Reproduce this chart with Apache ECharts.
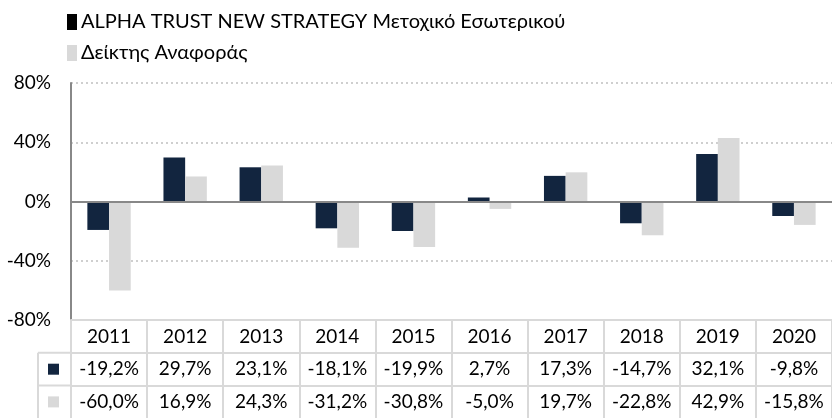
<!DOCTYPE html>
<html><head><meta charset="utf-8">
<script src="https://cdn.jsdelivr.net/npm/echarts@6/dist/echarts.min.js"></script>
<style>html,body{margin:0;padding:0;background:#fff}#c{width:832px;height:418px}</style>
</head><body><div id="c"></div>
<script>
const years = ['2011','2012','2013','2014','2015','2016','2017','2018','2019','2020'];
const fundName = 'ALPHA TRUST NEW STRATEGY Μετοχικό Εσωτερικού';
const benchName = 'Δείκτης Αναφοράς';
const fundValues = [-19.2, 29.7, 23.1, -18.1, -19.9, 2.7, 17.3, -14.7, 32.1, -9.8];
const benchValues = [-60.0, 16.9, 24.3, -31.2, -30.8, -5.0, 19.7, -22.8, 42.9, -15.8];
const yTicks = [-80, -40, 0, 40, 80];

const FONT = 'Lato, "Noto Sans", sans-serif';
const DARK = '#12253f', LIGHT = '#d9d9d9', TABLE = '#d9d9d9';
const fmt = v => v.toFixed(1).replace('.', ',') + '%';

const chart = echarts.init(document.getElementById('c'));
const gridLeft = 71, gridTop = 83, gridRight = -6, gridBottom = 98;
const rowH = 32.7;

function rowAxis(data, offset, line) {
  return {
    type: 'category', data: data, position: 'bottom', offset: offset,
    axisLine: { show: line, onZero: false, lineStyle: { color: TABLE, width: 2 } },
    axisTick: { show: false },
    axisLabel: { interval: 0, fontFamily: FONT, fontSize: 19, color: '#000', margin: 7 }
  };
}

chart.setOption({
  animation: false,
  textStyle: { fontFamily: FONT },
  legend: {
    orient: 'vertical', left: 62, top: 7, itemGap: 11,
    itemWidth: 10, itemHeight: 16, icon: 'rect',
    textStyle: { fontFamily: FONT, fontSize: 20, color: '#000', padding: [0,0,0,-1] },
    data: [
      { name: fundName, itemStyle: { color: '#000' } },
      { name: benchName, itemStyle: { color: LIGHT } }
    ]
  },
  grid: { left: gridLeft, top: gridTop, right: gridRight, bottom: gridBottom, containLabel: false },
  xAxis: [
    {
      type: 'category', data: years, position: 'bottom',
      axisLine: { show: true, onZero: false, lineStyle: { color: TABLE, width: 2 } },
      axisTick: { show: true, interval: 0, length: 3 * rowH + 1, lineStyle: { color: TABLE, width: 2 } },
      axisLabel: { interval: 0, fontFamily: FONT, fontSize: 19, color: '#000', margin: 7 }
    },
    rowAxis(fundValues.map(fmt), rowH, true),
    rowAxis(benchValues.map(fmt), rowH * 2, true)
  ],
  yAxis: {
    type: 'value', min: yTicks[0], max: yTicks[yTicks.length - 1], interval: 40,
    axisLine: { show: true, lineStyle: { color: '#888', width: 2 } },
    axisTick: { show: false },
    axisLabel: { fontFamily: FONT, fontSize: 19, color: '#000', margin: 20, formatter: v => v + '%' },
    splitLine: { show: true, lineStyle: { color: '#cfcfcf', width: 2, type: [2, 3] } }
  },
  series: [
    {
      name: fundName, type: 'bar', data: fundValues, barGap: 0, barCategoryGap: '43%',
      itemStyle: { color: DARK },
      markLine: {
        silent: true, symbol: 'none', label: { show: false },
        lineStyle: { color: '#888', width: 2, type: 'solid' },
        data: [{ yAxis: 0 }]
      }
    },
    {
      name: benchName, type: 'bar', data: benchValues, barGap: 0, barCategoryGap: '43%',
      itemStyle: { color: LIGHT }
    }
  ]
});

// table left column decorations
const bottomY = 418 - gridBottom;
const keyX = 38;
chart.setOption({
  graphic: [
    { type: 'line', shape: { x1: keyX, y1: bottomY + rowH, x2: gridLeft, y2: bottomY + rowH }, style: { stroke: TABLE, lineWidth: 2 } },
    { type: 'line', shape: { x1: keyX, y1: bottomY + 2 * rowH, x2: gridLeft, y2: bottomY + 2 * rowH }, style: { stroke: TABLE, lineWidth: 2 } },
    { type: 'line', shape: { x1: keyX, y1: bottomY + rowH, x2: keyX, y2: 420 }, style: { stroke: TABLE, lineWidth: 2 } },
    { type: 'rect', shape: { x: 48, y: bottomY + rowH + 11, width: 11, height: 11 }, style: { fill: DARK } },
    { type: 'rect', shape: { x: 48, y: bottomY + 2 * rowH + 11, width: 11, height: 11 }, style: { fill: LIGHT } }
  ]
});
</script></body></html>
